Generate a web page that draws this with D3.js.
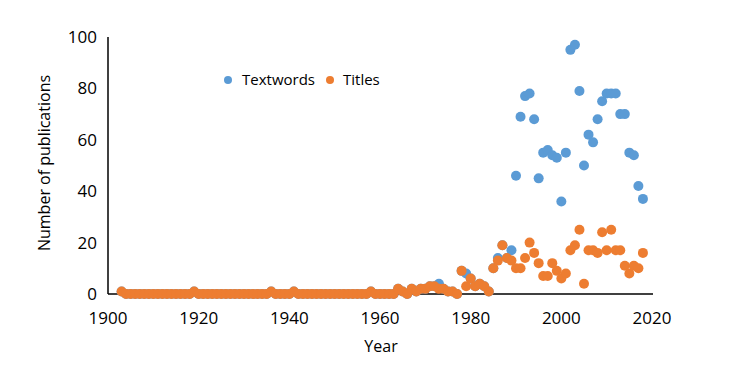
<!DOCTYPE html>
<html>
<head>
<meta charset="utf-8">
<script src="https://cdn.jsdelivr.net/npm/d3@7"></script>
<style>
  body { margin: 0; background: #fff; }
  svg { display: block; font-family: "Open Sans", sans-serif; }
</style>
</head>
<body>
<div id="chart"></div>
<script>
const startYear = 1903;
const endYear = 2018;

// Titles, one value per year 1903..2018
const titles = [
  1, 0, 0, 0, 0, 0, 0, 0, 0, 0, 0, 0, 0, 0, 0, 0,    // 1903-1918
  1, 0, 0, 0, 0, 0, 0, 0, 0, 0, 0, 0, 0, 0, 0, 0, 0, // 1919-1935
  1, 0, 0, 0, 0, 1, 0, 0, 0, 0, 0, 0, 0, 0, 0, 0,    // 1936-1951
  0, 0, 0, 0, 0, 0, 1, 0, 0, 0, 0, 0,                // 1952-1963
  2, 1, 0, 2, 1, 2, 2, 3, 3, 2, 2, 1, 1, 0,          // 1964-1977
  9, 3, 6, 3, 4, 3, 1, 10, 13, 19, 14, 13,           // 1978-1989
  10, 10, 14, 20, 16, 12, 7, 7, 12, 9,               // 1990-1999
  6, 8, 17, 19, 25, 4, 17, 17, 16, 24,               // 2000-2009
  17, 25, 17, 17, 11, 8, 11, 10, 16                  // 2010-2018
];

// Textwords, one value per year 1903..2018
const textwords = [
  1, 0, 0, 0, 0, 0, 0, 0, 0, 0, 0, 0, 0, 0, 0, 0,    // 1903-1918
  1, 0, 0, 0, 0, 0, 0, 0, 0, 0, 0, 0, 0, 0, 0, 0, 0, // 1919-1935
  1, 0, 0, 0, 0, 1, 0, 0, 0, 0, 0, 0, 0, 0, 0, 0,    // 1936-1951
  0, 0, 0, 0, 0, 0, 1, 0, 0, 0, 0, 0,                // 1952-1963
  2, 1, 0, 2, 1, 2, 2, 3, 3, 4, 2, 1, 1, 0,          // 1964-1977
  9, 8, 6, 3, 4, 3, 1, 10, 14, 19, 14, 17,           // 1978-1989
  46, 69, 77, 78, 68, 45, 55, 56, 54, 53,            // 1990-1999
  36, 55, 95, 97, 79, 50, 62, 59, 68, 75,            // 2000-2009
  78, 78, 78, 70, 70, 55, 54, 42, 37                 // 2010-2018
];

const xTicks = [1900, 1920, 1940, 1960, 1980, 2000, 2020];
const yTicks = [0, 20, 40, 60, 80, 100];

const seriesNames = ["Textwords", "Titles"];
const seriesColors = ["#5B9BD5", "#ED7D31"];

const years = d3.range(startYear, endYear + 1);
const series = [textwords, titles].map((vals, i) => ({
  name: seriesNames[i],
  color: seriesColors[i],
  points: years.map((y, j) => ({year: y, value: vals[j]}))
}));

const width = 734, height = 370;
const svg = d3.select("#chart").append("svg")
  .attr("width", width)
  .attr("height", height);

const x = d3.scaleLinear().domain([1900, 2020]).range([108, 652]);
const y = d3.scaleLinear().domain([0, 100]).range([294, 37]);

// axes lines
svg.append("line")
  .attr("x1", x(1900)).attr("x2", x(1900))
  .attr("y1", y(100)).attr("y2", y(0))
  .attr("stroke", "#000").attr("stroke-width", 1.5);
svg.append("line")
  .attr("x1", x(1900)).attr("x2", x(2020) + 1)
  .attr("y1", y(0)).attr("y2", y(0))
  .attr("stroke", "#000").attr("stroke-width", 1.5);

// tick labels
svg.append("g").selectAll("text")
  .data(xTicks).enter().append("text")
  .attr("x", d => x(d))
  .attr("y", 324)
  .attr("text-anchor", "middle")
  .attr("font-size", 17)
  .attr("fill", "#000")
  .text(d => d);

svg.append("g").selectAll("text")
  .data(yTicks).enter().append("text")
  .attr("x", 97)
  .attr("y", d => y(d))
  .attr("dy", "0.35em")
  .attr("text-anchor", "end")
  .attr("font-size", 17)
  .attr("fill", "#000")
  .text(d => d);

// axis titles
svg.append("text")
  .attr("x", 381).attr("y", 352)
  .attr("text-anchor", "middle")
  .attr("font-size", 16)
  .text("Year");

svg.append("text")
  .attr("transform", "translate(50,163) rotate(-90)")
  .attr("text-anchor", "middle")
  .attr("font-size", 16)
  .text("Number of publications");

// points
series.forEach(s => {
  svg.append("g").selectAll("circle")
    .data(s.points).enter().append("circle")
    .attr("cx", d => x(d.year))
    .attr("cy", d => y(d.value))
    .attr("r", 5)
    .attr("fill", s.color);
});

// legend
const legendPos = [{cx: 228, tx: 242}, {cx: 330, tx: 343}];
const legend = svg.append("g").selectAll("g")
  .data(series).enter().append("g");
legend.append("circle")
  .attr("cx", (d, i) => legendPos[i].cx)
  .attr("cy", 80)
  .attr("r", 4)
  .attr("fill", d => d.color);
legend.append("text")
  .attr("x", (d, i) => legendPos[i].tx)
  .attr("y", 80)
  .attr("dy", "0.35em")
  .attr("font-size", 15)
  .text(d => d.name);
</script>
</body>
</html>
